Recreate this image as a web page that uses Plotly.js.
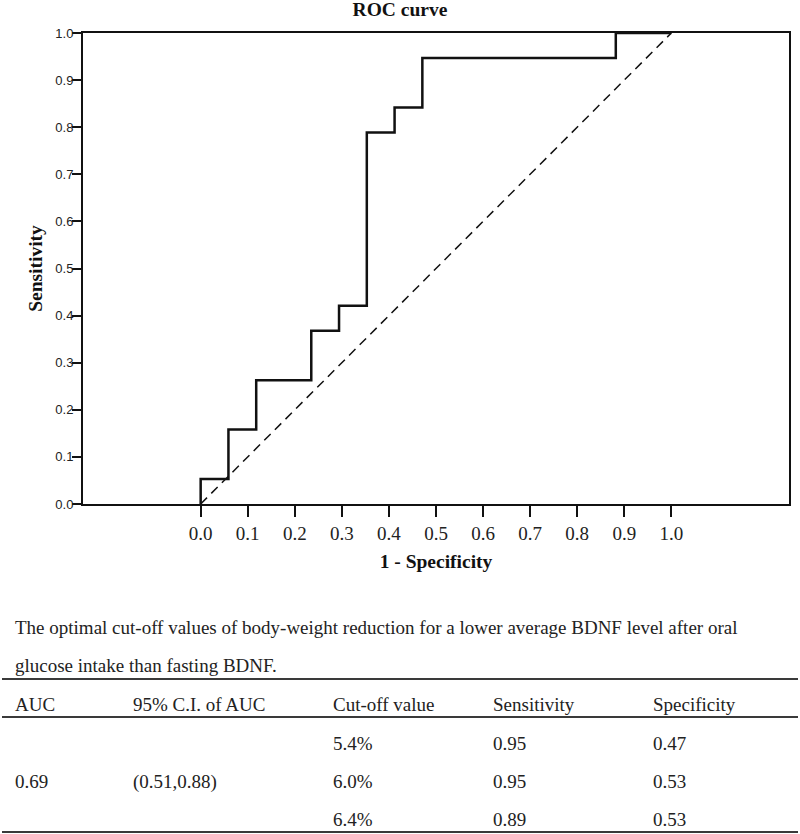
<!DOCTYPE html>
<html>
<head>
<meta charset="utf-8">
<script src="https://cdn.plot.ly/plotly-3.0.1.min.js"></script>
<style>html,body{margin:0;padding:0;background:#fff;}#chart{width:800px;height:834px;}</style>
</head>
<body>
<div id="chart"></div>
<script>
// ROC curve vertices (1 - Specificity, Sensitivity)
const fpr = [0, 0.059, 0.118, 0.235, 0.294, 0.353, 0.412, 0.471, 0.882, 1.0];
const tpr = [0, 0.053, 0.158, 0.263, 0.368, 0.421, 0.789, 0.842, 0.947, 1.0];
const refX = [0, 1];
const refY = [0, 1];
const xTickVals = [0, 0.1, 0.2, 0.3, 0.4, 0.5, 0.6, 0.7, 0.8, 0.9, 1.0];
const xTickText = ["0.0","0.1","0.2","0.3","0.4","0.5","0.6","0.7","0.8","0.9","1.0"];

// Table below the chart
const captionLines = [
  "The optimal cut-off values of body-weight reduction for a lower average BDNF level after oral",
  "glucose intake than fasting BDNF."
];
const tableHeader = ["AUC", "95% C.I. of AUC", "Cut-off value", "Sensitivity", "Specificity"];
const aucValue = "0.69";
const aucCI = "(0.51,0.88)";
const cutoffs = ["5.4%", "6.0%", "6.4%"];
const sensitivities = ["0.95", "0.95", "0.89"];
const specificities = ["0.47", "0.53", "0.53"];

// layout geometry (pixels)
const W = 800, H = 834;
const M = {l: 83, r: 11, t: 33, b: 330};
const plotW = W - M.l - M.r, plotH = H - M.t - M.b;
const px2x = px => (px - M.l) / plotW;
const py2y = py => (H - M.b - py) / plotH;

const serif = "Liberation Serif, Times New Roman, serif";
const textColor = "#222";
const colX = [13, 131, 331, 491, 651];
const headerY = 704;
const rowY = [743, 782, 819];
const captionY = [627, 665];
const ruleY = [679, 717, 832];

const annotations = [];
captionLines.forEach((t, i) => annotations.push({
  text: t, xref: "paper", yref: "paper", x: px2x(colX[0]), y: py2y(captionY[i]),
  xanchor: "left", yanchor: "middle", showarrow: false,
  font: {family: serif, size: 19, color: textColor}
}));
tableHeader.forEach((t, i) => annotations.push({
  text: t, xref: "paper", yref: "paper", x: px2x(colX[i]), y: py2y(headerY),
  xanchor: "left", yanchor: "middle", showarrow: false,
  font: {family: serif, size: 19, color: textColor}
}));
annotations.push({
  text: aucValue, xref: "paper", yref: "paper", x: px2x(colX[0]), y: py2y(rowY[1]),
  xanchor: "left", yanchor: "middle", showarrow: false,
  font: {family: serif, size: 19, color: textColor}
});
annotations.push({
  text: aucCI, xref: "paper", yref: "paper", x: px2x(colX[1]), y: py2y(rowY[1]),
  xanchor: "left", yanchor: "middle", showarrow: false,
  font: {family: serif, size: 19, color: textColor}
});
cutoffs.forEach((c, i) => {
  [c, sensitivities[i], specificities[i]].forEach((t, j) => annotations.push({
    text: t, xref: "paper", yref: "paper", x: px2x(colX[j + 2]), y: py2y(rowY[i]),
    xanchor: "left", yanchor: "middle", showarrow: false,
    font: {family: serif, size: 19, color: textColor}
  }));
});

const shapes = ruleY.map(py => ({
  type: "line", xref: "paper", yref: "paper",
  x0: px2x(2), x1: px2x(798), y0: py2y(py), y1: py2y(py),
  line: {color: "#3a3a3a", width: 2}
}));

const traces = [
  {
    x: refX, y: refY, mode: "lines", type: "scatter",
    line: {color: "#111", width: 1.5, dash: "9px,6px"},
    hoverinfo: "skip", showlegend: false
  },
  {
    x: fpr, y: tpr, mode: "lines", type: "scatter",
    line: {color: "#111", width: 2.5, shape: "vh"},
    showlegend: false
  }
];

const layout = {
  width: W, height: H,
  margin: M,
  paper_bgcolor: "#fff", plot_bgcolor: "#fff",
  title: {
    text: "<b>ROC curve</b>", xref: "container", x: 0.5, xanchor: "center",
    yref: "container", y: 1 - 9 / H, yanchor: "middle",
    font: {family: serif, size: 19.5, color: "#111"}
  },
  xaxis: {
    range: [-0.25, 1.25], tickmode: "array", tickvals: xTickVals, ticktext: xTickText,
    ticks: "outside", ticklen: 11, tickwidth: 2, tickcolor: "#111",
    showline: true, linecolor: "#111", linewidth: 2, mirror: true,
    showgrid: false, zeroline: false,
    tickfont: {family: serif, size: 19, color: "#222"},
    title: {text: "<b>1 - Specificity</b>", standoff: 12, font: {family: serif, size: 19.5, color: "#111"}}
  },
  yaxis: {
    range: [0, 1], dtick: 0.1, tickformat: ".1f",
    ticks: "outside", ticklen: 9, tickwidth: 2, tickcolor: "#111",
    ticklabelstandoff: -4,
    showline: true, linecolor: "#111", linewidth: 2, mirror: true,
    showgrid: false, zeroline: false,
    tickfont: {family: "Liberation Sans, Arial, sans-serif", size: 13, color: "#222"},
    title: {text: "<b>Sensitivity</b>", standoff: 7, font: {family: serif, size: 19.5, color: "#111"}}
  },
  annotations: annotations,
  shapes: shapes
};

Plotly.newPlot("chart", traces, layout, {displayModeBar: false, staticPlot: true});
</script>
</body>
</html>
